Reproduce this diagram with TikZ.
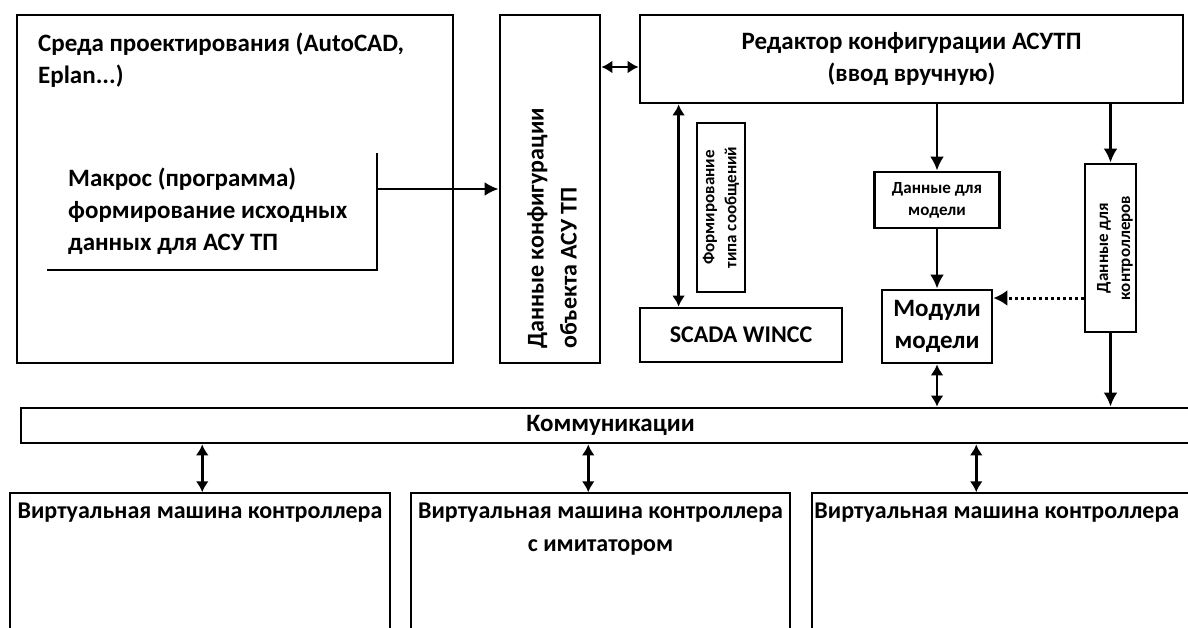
\documentclass[tikz,border=0pt]{standalone}
\usepackage{fontspec}
\setmainfont{Carlito}
\usepackage{tikz}
\usetikzlibrary{arrows.meta,positioning}

\begin{document}
\begin{tikzpicture}[x=1pt, y=-1pt,
  blk/.style={draw, line width=2.8pt, fill=white, inner sep=0pt},
  thinblk/.style={draw, line width=1.5pt, inner sep=0pt},
  txt/.style={font=\fontsize{25}{32}\selectfont\bfseries, align=center, inner sep=0pt},
  mid/.style={font=\fontsize{24}{33}\selectfont\bfseries, align=center, inner sep=0pt},
  sml/.style={font=\fontsize{17}{22}\selectfont\bfseries, align=center, inner sep=0pt},
  arr/.style={line width=2.8pt, -{Latex[length=14pt,width=14pt]}},
  both/.style={line width=2.8pt, {Latex[length=11pt,width=13pt]}-{Latex[length=11pt,width=13pt]}},
  dots/.style={line width=3pt, dash pattern=on 3pt off 3pt, -{Latex[length=14pt,width=16pt]}}
]
\clip (0,0) rectangle (1188,628);
\fill[white] (0,0) rectangle (1188,628);

% Upper blocks
\node[blk, minimum width=436pt, minimum height=348pt] (env)  at (235,189) {};
\node[blk, minimum width=100pt, minimum height=348pt] (data) at (550,189) {};
\node[blk, minimum width=543pt, minimum height=88pt, txt] (editor) at (911.5,59)
  {Редактор конфигурации АСУТП\\(ввод вручную)};
\node[blk, minimum width=202pt, minimum height=54pt, mid] (scada) at (741,335) {SCADA WINCC};
\node[blk, rotate=90, minimum width=169pt, minimum height=48pt, sml] (msg) at (721,207.5)
  {Формирование\\типа сообщений};
\node[blk, minimum width=125pt, minimum height=56pt, sml] (mdata) at (937,200) {Данные для\\модели};
\node[blk, minimum width=110pt, minimum height=73pt, txt] (modules) at (937,326.5) {Модули\\модели};
\node[blk, minimum width=51pt, minimum height=168pt] (ctrl) at (1110.5,248) {};

% Texts of the upper blocks
\node[txt, anchor=west, align=left] (envtxt) at (38,60) {Среда проектирования (AutoCAD,\\Eplan...)};
\node[txt, anchor=west, align=left] (macro) at (68,211)
  {Макрос (программа)\\формирование исходных\\данных для АСУ ТП};
\node[mid, rotate=90, anchor=west, align=left] (datatxt) at (552,349)
  {Данные конфигурации\\объекта АСУ ТП};
\node[sml, rotate=90] (ctrltxt) at (1115,248) {Данные для\\контроллеров};

% Communication and virtual machines
\node[blk, minimum width=1179pt, minimum height=35pt, txt] (comm) at (610.5,425.5) {Коммуникации};
\node[thinblk, minimum width=380pt, minimum height=147pt] (vm1) at (200,566.5) {};
\node[thinblk, minimum width=379pt, minimum height=147pt] (vm2) at (600.5,566.5) {};
\node[thinblk, minimum width=390pt, minimum height=147pt] (vm3) at (1007,566.5) {};
\node[mid, anchor=north] (vm1txt) at ([yshift=-10pt]vm1.north) {Виртуальная машина контроллера};
\node[mid, anchor=north] (vm2txt) at ([yshift=-10pt]vm2.north)
  {Виртуальная машина контроллера\\с имитатором};
\node[mid, anchor=north west] (vm3txt) at ([shift={(3pt,-10pt)}]vm3.north west)
  {Виртуальная машина контроллера};

% Macro bracket
\coordinate (mtop) at (377,153);
\coordinate (mcorner) at (377,270);
\coordinate (mleft) at (47,270);
\coordinate (mout) at (377,189);
\draw[line width=2.8pt] (mtop) -- (mcorner) -- (mleft);

% Connections
\coordinate (edin) at ([yshift=-8pt]editor.west);
\coordinate (dotsrc) at ([yshift=-50pt]ctrl.west);
\draw[arr] (mout) -- (mout -| data.west);
\draw[both] (data.east |- edin) -- (edin);
\draw[both] ([xshift=40pt]editor.south west) -- ([xshift=40pt]scada.north west);
\draw[arr] (editor.south -| mdata.north) -- (mdata.north);
\draw[arr] (mdata) -- (modules);
\draw[arr] (editor.south -| ctrl.north) -- (ctrl.north);
\draw[dots] (dotsrc) -- (dotsrc -| modules.east);
\draw[both] (modules.south) -- (modules.south |- comm.north);
\draw[arr] (ctrl.south) -- (ctrl.south |- comm.north);
\foreach \v/\sh in {vm1/193, vm2/178, vm3/165}
  \draw[both] ([xshift=\sh pt]\v.north west |- comm.south) -- ([xshift=\sh pt]\v.north west);
\end{tikzpicture}
\end{document}
